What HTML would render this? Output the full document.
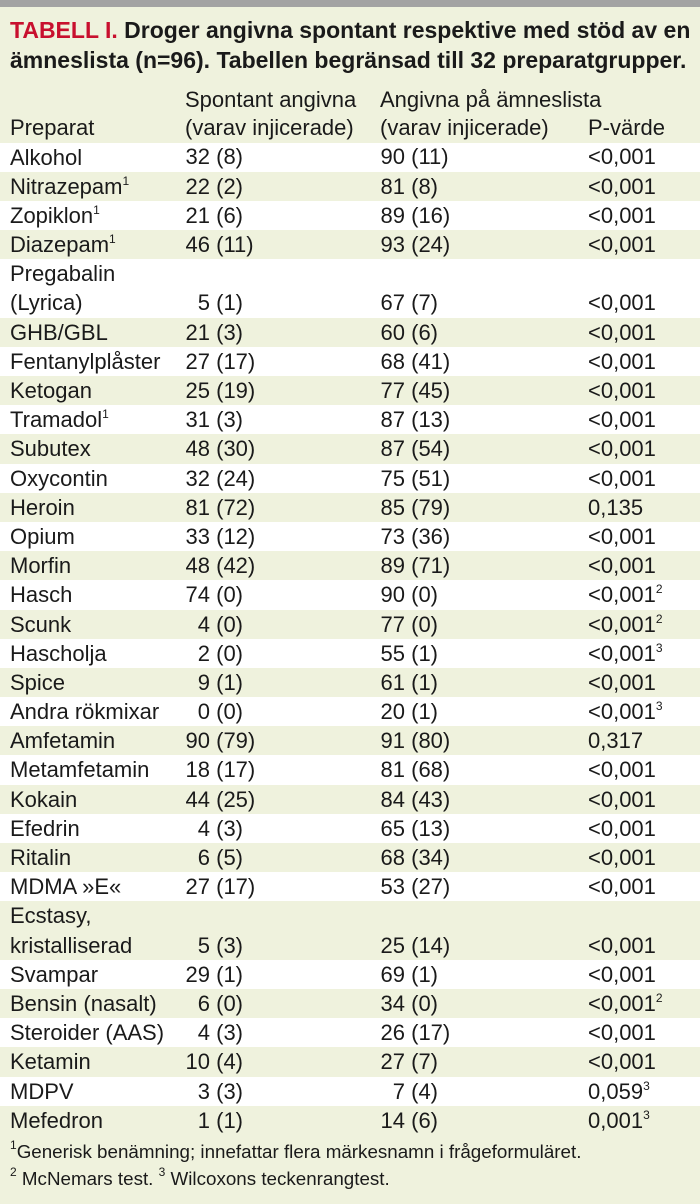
<!DOCTYPE html>
<html><head><meta charset="utf-8"><style>
body{margin:0;width:700px;height:1204px;background:#eff2dd;font-family:"Liberation Sans",sans-serif;color:#1a1a1a;position:relative;overflow:hidden}
.bar{position:absolute;left:0;top:0;width:700px;height:7px;background:#a3a3a3}
.title{position:absolute;left:10px;top:15px;font-weight:bold;font-size:23px;line-height:30px;white-space:nowrap}
.title b{color:#c8102e}
.hdr{position:absolute;top:86px;font-size:22px;line-height:28px;white-space:nowrap}
.rows{position:absolute;top:142.5px;left:0;width:700px}
.r{position:relative;height:29.2px;font-size:22px;line-height:29.2px;white-space:nowrap}
.r.d{height:58.4px}
.r:nth-child(odd){background:#fff}
.c0{position:absolute;left:10px;top:0}
.n1{position:absolute;left:145px;width:65px;text-align:right;bottom:0}
.p1{position:absolute;left:210px;bottom:0;white-space:pre}
.n2{position:absolute;left:340px;width:65px;text-align:right;bottom:0}
.p2{position:absolute;left:405px;bottom:0;white-space:pre}
.pv{position:absolute;left:588px;bottom:0}
sup{font-size:12px;line-height:0;vertical-align:9px}
.foot{position:absolute;left:10px;top:1138px;font-family:"Liberation Sans Narrow","Liberation Sans",sans-serif;font-size:18.8px;line-height:27px;white-space:nowrap}
</style></head><body>
<div class="bar"></div>
<div class="title"><b>TABELL I.</b> Droger angivna spontant respektive med stöd av en<br>ämneslista (n=96). Tabellen begränsad till 32 preparatgrupper.</div>
<div class="hdr" style="left:10px;top:114px">Preparat</div>
<div class="hdr" style="left:185px">Spontant angivna<br>(varav injicerade)</div>
<div class="hdr" style="left:380px">Angivna på ämneslista<br>(varav injicerade)</div>
<div class="hdr" style="left:588px;top:114px">P-värde</div>
<div class="rows">
<div class="r"><span class="c0">Alkohol</span><span class="n1">32</span><span class="p1"> (8)</span><span class="n2">90</span><span class="p2"> (11)</span><span class="pv">&lt;0,001</span></div>
<div class="r"><span class="c0">Nitrazepam<sup>1</sup></span><span class="n1">22</span><span class="p1"> (2)</span><span class="n2">81</span><span class="p2"> (8)</span><span class="pv">&lt;0,001</span></div>
<div class="r"><span class="c0">Zopiklon<sup>1</sup></span><span class="n1">21</span><span class="p1"> (6)</span><span class="n2">89</span><span class="p2"> (16)</span><span class="pv">&lt;0,001</span></div>
<div class="r"><span class="c0">Diazepam<sup>1</sup></span><span class="n1">46</span><span class="p1"> (11)</span><span class="n2">93</span><span class="p2"> (24)</span><span class="pv">&lt;0,001</span></div>
<div class="r d"><span class="c0">Pregabalin<br>(Lyrica)</span><span class="n1">5</span><span class="p1"> (1)</span><span class="n2">67</span><span class="p2"> (7)</span><span class="pv">&lt;0,001</span></div>
<div class="r"><span class="c0">GHB/GBL</span><span class="n1">21</span><span class="p1"> (3)</span><span class="n2">60</span><span class="p2"> (6)</span><span class="pv">&lt;0,001</span></div>
<div class="r"><span class="c0">Fentanylplåster</span><span class="n1">27</span><span class="p1"> (17)</span><span class="n2">68</span><span class="p2"> (41)</span><span class="pv">&lt;0,001</span></div>
<div class="r"><span class="c0">Ketogan</span><span class="n1">25</span><span class="p1"> (19)</span><span class="n2">77</span><span class="p2"> (45)</span><span class="pv">&lt;0,001</span></div>
<div class="r"><span class="c0">Tramadol<sup>1</sup></span><span class="n1">31</span><span class="p1"> (3)</span><span class="n2">87</span><span class="p2"> (13)</span><span class="pv">&lt;0,001</span></div>
<div class="r"><span class="c0">Subutex</span><span class="n1">48</span><span class="p1"> (30)</span><span class="n2">87</span><span class="p2"> (54)</span><span class="pv">&lt;0,001</span></div>
<div class="r"><span class="c0">Oxycontin</span><span class="n1">32</span><span class="p1"> (24)</span><span class="n2">75</span><span class="p2"> (51)</span><span class="pv">&lt;0,001</span></div>
<div class="r"><span class="c0">Heroin</span><span class="n1">81</span><span class="p1"> (72)</span><span class="n2">85</span><span class="p2"> (79)</span><span class="pv">0,135</span></div>
<div class="r"><span class="c0">Opium</span><span class="n1">33</span><span class="p1"> (12)</span><span class="n2">73</span><span class="p2"> (36)</span><span class="pv">&lt;0,001</span></div>
<div class="r"><span class="c0">Morfin</span><span class="n1">48</span><span class="p1"> (42)</span><span class="n2">89</span><span class="p2"> (71)</span><span class="pv">&lt;0,001</span></div>
<div class="r"><span class="c0">Hasch</span><span class="n1">74</span><span class="p1"> (0)</span><span class="n2">90</span><span class="p2"> (0)</span><span class="pv">&lt;0,001<sup>2</sup></span></div>
<div class="r"><span class="c0">Scunk</span><span class="n1">4</span><span class="p1"> (0)</span><span class="n2">77</span><span class="p2"> (0)</span><span class="pv">&lt;0,001<sup>2</sup></span></div>
<div class="r"><span class="c0">Hascholja</span><span class="n1">2</span><span class="p1"> (0)</span><span class="n2">55</span><span class="p2"> (1)</span><span class="pv">&lt;0,001<sup>3</sup></span></div>
<div class="r"><span class="c0">Spice</span><span class="n1">9</span><span class="p1"> (1)</span><span class="n2">61</span><span class="p2"> (1)</span><span class="pv">&lt;0,001</span></div>
<div class="r"><span class="c0">Andra rökmixar</span><span class="n1">0</span><span class="p1"> (0)</span><span class="n2">20</span><span class="p2"> (1)</span><span class="pv">&lt;0,001<sup>3</sup></span></div>
<div class="r"><span class="c0">Amfetamin</span><span class="n1">90</span><span class="p1"> (79)</span><span class="n2">91</span><span class="p2"> (80)</span><span class="pv">0,317</span></div>
<div class="r"><span class="c0">Metamfetamin</span><span class="n1">18</span><span class="p1"> (17)</span><span class="n2">81</span><span class="p2"> (68)</span><span class="pv">&lt;0,001</span></div>
<div class="r"><span class="c0">Kokain</span><span class="n1">44</span><span class="p1"> (25)</span><span class="n2">84</span><span class="p2"> (43)</span><span class="pv">&lt;0,001</span></div>
<div class="r"><span class="c0">Efedrin</span><span class="n1">4</span><span class="p1"> (3)</span><span class="n2">65</span><span class="p2"> (13)</span><span class="pv">&lt;0,001</span></div>
<div class="r"><span class="c0">Ritalin</span><span class="n1">6</span><span class="p1"> (5)</span><span class="n2">68</span><span class="p2"> (34)</span><span class="pv">&lt;0,001</span></div>
<div class="r"><span class="c0">MDMA »E«</span><span class="n1">27</span><span class="p1"> (17)</span><span class="n2">53</span><span class="p2"> (27)</span><span class="pv">&lt;0,001</span></div>
<div class="r d"><span class="c0">Ecstasy,<br>kristalliserad</span><span class="n1">5</span><span class="p1"> (3)</span><span class="n2">25</span><span class="p2"> (14)</span><span class="pv">&lt;0,001</span></div>
<div class="r"><span class="c0">Svampar</span><span class="n1">29</span><span class="p1"> (1)</span><span class="n2">69</span><span class="p2"> (1)</span><span class="pv">&lt;0,001</span></div>
<div class="r"><span class="c0">Bensin (nasalt)</span><span class="n1">6</span><span class="p1"> (0)</span><span class="n2">34</span><span class="p2"> (0)</span><span class="pv">&lt;0,001<sup>2</sup></span></div>
<div class="r"><span class="c0">Steroider (AAS)</span><span class="n1">4</span><span class="p1"> (3)</span><span class="n2">26</span><span class="p2"> (17)</span><span class="pv">&lt;0,001</span></div>
<div class="r"><span class="c0">Ketamin</span><span class="n1">10</span><span class="p1"> (4)</span><span class="n2">27</span><span class="p2"> (7)</span><span class="pv">&lt;0,001</span></div>
<div class="r"><span class="c0">MDPV</span><span class="n1">3</span><span class="p1"> (3)</span><span class="n2">7</span><span class="p2"> (4)</span><span class="pv">0,059<sup>3</sup></span></div>
<div class="r"><span class="c0">Mefedron</span><span class="n1">1</span><span class="p1"> (1)</span><span class="n2">14</span><span class="p2"> (6)</span><span class="pv">0,001<sup>3</sup></span></div>
</div>
<div class="foot"><sup>1</sup>Generisk benämning; innefattar flera märkesnamn i frågeformuläret.<br><sup>2</sup> McNemars test. <sup>3</sup> Wilcoxons teckenrangtest.</div>
</body></html>
